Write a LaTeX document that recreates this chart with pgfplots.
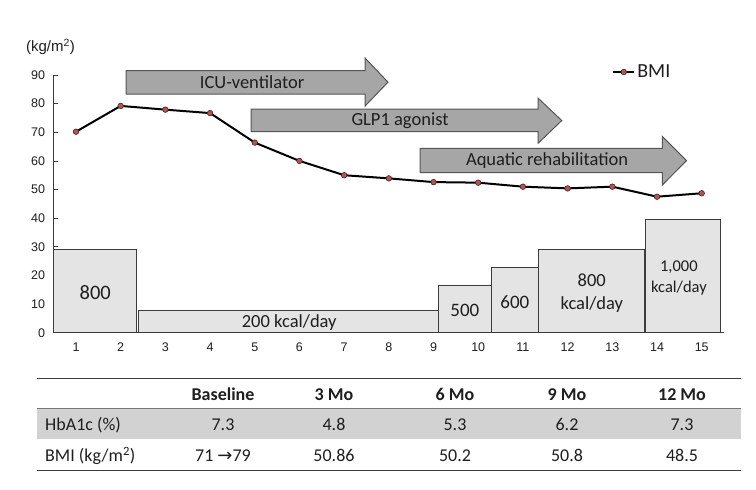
\documentclass[border=0pt]{standalone}
\usepackage{fontspec}
\setmainfont{Carlito}
\newfontfamily\arialf{Liberation Sans}
\newfontfamily\dejavu{DejaVu Sans}
\usepackage{pgfplots}
\pgfplotsset{compat=1.18}

\definecolor{barfill}{RGB}{228,228,228}
\definecolor{bardraw}{RGB}{60,60,60}
\definecolor{arrfill}{RGB}{166,166,166}
\definecolor{arrdraw}{RGB}{85,85,85}
\definecolor{mkfill}{RGB}{176,84,84}
\definecolor{txt}{RGB}{30,30,30}
\definecolor{band}{RGB}{210,210,210}
\newcommand\fs[2]{\fontsize{#1bp}{#2bp}\selectfont}

\begin{document}
\begin{tikzpicture}
\useasboundingbox (-53.65bp,-157.3bp) rectangle (702.35bp,332.7bp);
\begin{axis}[
  at={(0,0)}, anchor=south west,
  scale only axis, width=670.4bp, height=257.7bp,
  xmin=0.5, xmax=15.5, ymin=0, ymax=90,
  axis lines=left, axis line style={-, draw=bardraw, line width=0.8bp},
  xtick={1,...,15}, ytick={0,10,...,90},
  tick align=inside,
  x tick style={draw=none}, y tick style={draw=bardraw, line width=0.8bp},
  major tick length=4bp,
  tick label style={font=\arialf\fs{12.5}{14}, text=txt},
  /pgf/number format/assume math mode=true,
  xticklabel style={yshift=-7bp},
  yticklabel style={xshift=-5bp},
  clip=false,
  legend style={at={(0.833,1.0116)}, anchor=west, draw=none, fill=none,
    font=\fs{20}{24}, text=txt, inner sep=0pt},
  legend image code/.code={\draw[mark repeat=2,mark phase=2,#1]
    plot coordinates {(0bp,0bp) (10.5bp,0bp) (21bp,0bp)};},
]
% calorie intake blocks
\addplot[fill=barfill, draw=bardraw, line width=1bp, forget plot]
  coordinates {(0.5,0) (0.5,28.9) (2.36,28.9) (2.36,0) (0.5,0)};
\addplot[fill=barfill, draw=bardraw, line width=1bp, forget plot]
  coordinates {(2.40,0) (2.40,7.9) (9.1,7.9) (9.1,0) (2.40,0)};
\addplot[fill=barfill, draw=bardraw, line width=1bp, forget plot]
  coordinates {(9.1,0) (9.1,16.4) (10.3,16.4) (10.3,0) (9.1,0)};
\addplot[fill=barfill, draw=bardraw, line width=1bp, forget plot]
  coordinates {(10.3,0) (10.3,22.7) (11.35,22.7) (11.35,0) (10.3,0)};
\addplot[fill=barfill, draw=bardraw, line width=1bp, forget plot]
  coordinates {(11.35,0) (11.35,28.9) (13.71,28.9) (13.71,0) (11.35,0)};
\addplot[fill=barfill, draw=bardraw, line width=1bp, forget plot]
  coordinates {(13.74,0) (13.74,39.4) (15.43,39.4) (15.43,0) (13.74,0)};

% treatment arrows
\addplot[fill=arrfill, draw=arrdraw, line width=1bp, forget plot]
  coordinates {(2.12,83.3) (2.12,91.5) (7.47,91.5) (7.47,95.9) (7.98,87.5) (7.47,79.2) (7.47,83.3) (2.12,83.3)};
\addplot[fill=arrfill, draw=arrdraw, line width=1bp, forget plot]
  coordinates {(4.92,70.2) (4.92,78.1) (11.34,78.1) (11.34,81.9) (11.87,74.1) (11.34,66.2) (11.34,70.2) (4.92,70.2)};
\addplot[fill=arrfill, draw=arrdraw, line width=1bp, forget plot]
  coordinates {(8.70,55.9) (8.70,64.4) (14.12,64.4) (14.12,68.5) (14.66,60.1) (14.12,51.6) (14.12,55.9) (8.70,55.9)};

% BMI
\addplot[black, line width=2bp, mark=*, mark size=2.8bp,
  mark options={fill=mkfill, draw=black!60!mkfill, line width=0.6bp}]
  coordinates {(1,70.2) (2,79.2) (3,77.9) (4,76.7) (5,66.4) (6,60.0) (7,55.0)
    (8,53.9) (9,52.6) (10,52.4) (11,51.0) (12,50.4) (13,51.0) (14,47.5) (15,48.7)};
\addlegendentry{BMI}

\begin{scope}[text=txt]
\node[font=\fs{18.5}{22}] at (axis cs:4.94,87.4) {ICU-ventilator};
\node[font=\fs{18.5}{22}] at (axis cs:8.25,74.15) {GLP1 agonist};
\node[font=\fs{18.5}{22}] at (axis cs:11.54,60.1) {Aquatic rehabilitation};
\node[font=\fs{20.5}{24}] at (axis cs:1.43,14.0) {800};
\node[font=\fs{18.5}{22}] at (axis cs:5.77,3.4) {200 kcal/day};
\node[font=\fs{19}{22}] at (axis cs:9.70,7.7) {500};
\node[font=\fs{19}{22}] at (axis cs:10.82,10.8) {600};
\node[font=\fs{18.5}{23}, align=center] at (axis cs:12.54,13.75) {800\\kcal/day};
\node[font=\fs{16.5}{20.6}, align=center] at (axis cs:14.49,19.1) {1,000\\kcal/day};
\end{scope}
\end{axis}

% table and unit label, in picture pixels
\begin{scope}[x=1bp, y=-1bp, shift={(-53.65bp,332.7bp)}, text=txt]
\node[font=\arialf\fs{15}{17}] at (50.5,46.7) {(kg/m\textsuperscript{2})};
\fill[band] (37.3,408.3) rectangle (740.7,439);
\draw[bardraw, line width=1.5bp] (37.3,378.3) -- (740.7,378.3);
\draw[bardraw!70, line width=1bp] (37.3,408.3) -- (740.7,408.3);
\draw[bardraw, line width=1.5bp] (37.3,470.7) -- (740.7,470.7);
\foreach \cx/\h/\a/\b in {223/Baseline/7.3/{71 {\dejavu→}79}, 334/3 Mo/4.8/50.86,
    455/6 Mo/5.3/50.2, 567/9 Mo/6.2/50.8, 682/12 Mo/7.3/48.5} {
  \node[font=\bfseries\fs{18}{22}, anchor=base] at (\cx,400.3) {\h};
  \node[font=\fs{18}{22}, anchor=base] at (\cx,431) {\a};
  \node[font=\fs{18}{22}, anchor=base] at (\cx,461.7) {\b};
}
\node[font=\fs{18}{22}, anchor=base west, inner sep=0pt] at (45,431) {HbA1c (\%)};
\node[font=\fs{18}{22}, anchor=base west, inner sep=0pt] at (45,461.7) {BMI (kg/m\textsuperscript{2})};
\end{scope}
\end{tikzpicture}
\end{document}
